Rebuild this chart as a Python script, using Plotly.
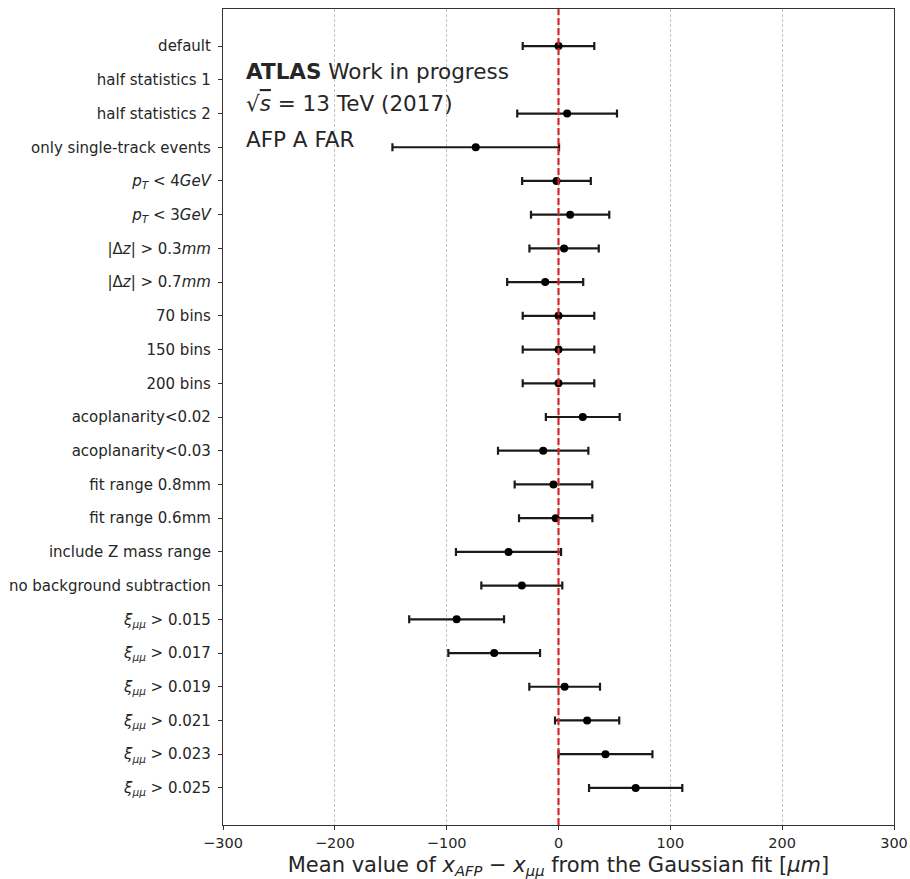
import plotly.graph_objects as go

labels = [
    "default",
    "half statistics 1",
    "half statistics 2",
    "only single-track events",
    "<i>p</i><sub><i>T</i></sub> &lt; 4<i>GeV</i>",
    "<i>p</i><sub><i>T</i></sub> &lt; 3<i>GeV</i>",
    "|Δ<i>z</i>| &gt; 0.3<i>mm</i>",
    "|Δ<i>z</i>| &gt; 0.7<i>mm</i>",
    "70 bins",
    "150 bins",
    "200 bins",
    "acoplanarity&lt;0.02",
    "acoplanarity&lt;0.03",
    "fit range 0.8mm",
    "fit range 0.6mm",
    "include Z mass range",
    "no background subtraction",
    "<i>ξ</i><sub><i>μμ</i></sub> &gt; 0.015",
    "<i>ξ</i><sub><i>μμ</i></sub> &gt; 0.017",
    "<i>ξ</i><sub><i>μμ</i></sub> &gt; 0.019",
    "<i>ξ</i><sub><i>μμ</i></sub> &gt; 0.021",
    "<i>ξ</i><sub><i>μμ</i></sub> &gt; 0.023",
    "<i>ξ</i><sub><i>μμ</i></sub> &gt; 0.025",
]

means = [0.0, None, 7.7, -74.0, -1.8, 10.4, 5.0, -11.9, 0.0, 0.0, 0.0, 21.7, -13.7,
         -4.5, -2.5, -44.7, -32.8, -91.1, -57.5, 5.5, 25.6, 42.0, 69.0]
errors = [32.0, None, 44.6, 74.5, 30.7, 35.0, 31.0, 34.0, 32.0, 32.0, 32.0, 33.0, 40.4,
          34.7, 32.8, 47.0, 36.2, 42.4, 41.0, 31.6, 28.7, 42.0, 41.7]

xticks = [-300, -200, -100, 0, 100, 200, 300]

ypos = list(range(len(labels)))
xs = [m for m in means if m is not None]
ys = [y for y, m in zip(ypos, means) if m is not None]
es = [e for e, m in zip(errors, means) if m is not None]

txt = "#262626"
fig = go.Figure()
fig.add_trace(go.Scatter(
    x=xs, y=ys, mode="markers",
    marker=dict(color="black", size=8),
    error_x=dict(type="data", array=es, visible=True, color="#1a1a1a",
                 thickness=2.2, width=4),
    showlegend=False, hoverinfo="skip",
))

fig.add_shape(type="line", xref="x", yref="paper", x0=0, x1=0, y0=0, y1=1,
              line=dict(color="#d62728", width=2.2, dash="7px,3px"), layer="above")

ann_font = dict(family="DejaVu Sans", size=21.5, color=txt)
fig.add_annotation(xref="paper", yref="paper", x=0.031, y=0.923, xanchor="left",
                   yanchor="middle", showarrow=False,
                   text="<b>ATLAS</b> Work in progress", font=ann_font)
fig.add_annotation(xref="paper", yref="paper", x=0.031, y=0.884, xanchor="left",
                   yanchor="middle", showarrow=False,
                   text="√<span style='text-decoration:overline'><i>s</i></span> = 13 TeV (2017)",
                   font=ann_font)
fig.add_annotation(xref="paper", yref="paper", x=0.031, y=0.840, xanchor="left",
                   yanchor="middle", showarrow=False,
                   text="AFP A FAR", font=ann_font)

fig.update_layout(
    width=910, height=879,
    margin=dict(l=223, r=16, t=9, b=54),
    plot_bgcolor="white", paper_bgcolor="white",
    font=dict(family="DejaVu Sans", size=15, color=txt),
)
fig.update_xaxes(
    range=[-300, 300], tickvals=xticks, ticktext=[str(v).replace("-", "−") for v in xticks],
    showgrid=True, gridcolor="#c4c4c4", griddash="3px,2px", gridwidth=1,
    zeroline=False, showline=True, linecolor="#333", linewidth=1.2, mirror=True,
    ticks="outside", ticklen=4, tickcolor="#333", tickfont=dict(size=14.5),
    automargin=False,
    title=dict(text="Mean value of <i>x</i><sub><i>AFP</i></sub> − <i>x</i><sub><i>μμ</i></sub> from the Gaussian fit [<i>μm</i>]",
               font=dict(size=21, color=txt), standoff=10),
)
fig.update_yaxes(
    range=[22 + 1.1, -1.1], tickvals=ypos, ticktext=labels,
    showgrid=False, zeroline=False, showline=True, linecolor="#333", linewidth=1.2,
    mirror=True, ticks="outside", ticklen=4, tickcolor="#333", tickfont=dict(size=15),
    ticklabelstandoff=4, automargin=False,
)

fig.write_html("out.html", config={"displayModeBar": False},
               post_script="document.body.style.margin='0';")
